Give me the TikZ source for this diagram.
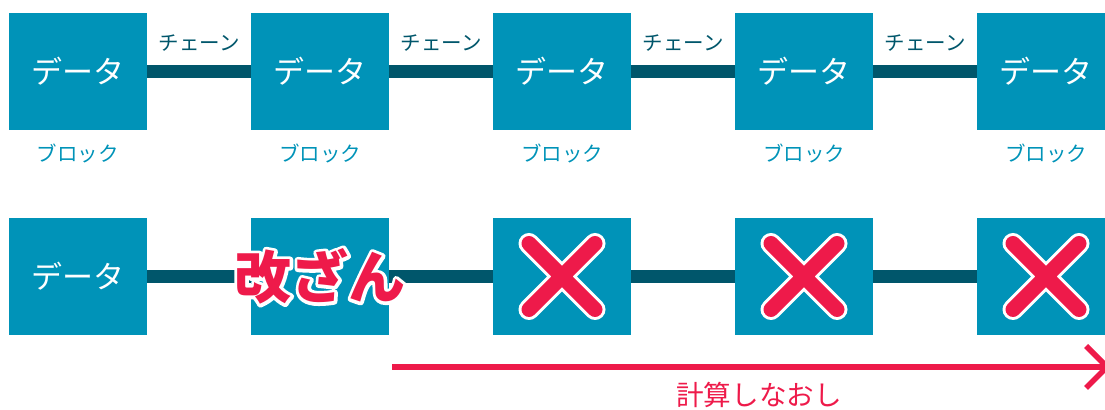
\documentclass[tikz,border=0pt]{standalone}
\usepackage{fontspec}
\newfontfamily\jp{Noto Sans CJK JP}
\usetikzlibrary{arrows.meta}
\definecolor{blockblue}{HTML}{0093B8}
\definecolor{chainteal}{HTML}{00566B}
\definecolor{alertred}{HTML}{EE1A4A}
% white outline under a text (stroke render mode of xdvipdfmx)
\newcommand\haloed[1]{\rlap{\special{pdf:literal direct 1 j 3.2 w 2 Tr}\textcolor{white}{#1}\special{pdf:literal direct 0 Tr}}\textcolor{alertred}{#1}}

\begin{document}
\begin{tikzpicture}[x=0.5pt,y=-0.5pt,
  blk/.style={fill=blockblue,minimum width=69pt,minimum height=58.5pt,inner sep=0pt,text=white,font=\jp\fontsize{15.5}{16}\selectfont},
  chain/.style={draw=chainteal,line width=6.5pt},
  blklabel/.style={text=blockblue,font=\jp\fontsize{10.25}{11}\selectfont},
  lnk/.style={text=chainteal,font=\jp\fontsize{10.25}{11}\selectfont},
  tamper/.style={font=\jp\bfseries\fontsize{28.5}{30}\selectfont,inner sep=0pt},
  redo/.style={draw=alertred,line width=2.75pt,-{Straight Barb[length=10.5pt,width=21pt]}}
]
\clip (0,0) rectangle (1105,410);

% chain: top row
\foreach \i in {1,...,5}{
  \node[blk] (b\i) at ({78+242*(\i-1)},71.5) {データ};
  \node[blklabel] (p\i) at ({78+242*(\i-1)},153) {ブロック};
}
\foreach \i/\j in {1/2,2/3,3/4,4/5}
  \draw[chain] (b\i) -- (b\j) node[lnk,midway,yshift=14.25pt] (l\i) {チェーン};

% tampered chain: bottom row
\node[blk] (c1) at (78,276.5) {データ};
\foreach \i in {2,...,5}
  \node[blk] (c\i) at ({78+242*(\i-1)},276.5) {};
\foreach \i/\j in {1/2,2/3,3/4,4/5}
  \draw[chain] (c\i) -- (c\j);

\foreach \i in {3,4,5}{
  \draw[white,line width=10.5pt,line cap=round]
    ([shift={(-33,-33)}]c\i.center) -- ([shift={(33,33)}]c\i.center)
    ([shift={(-33,33)}]c\i.center) -- ([shift={(33,-33)}]c\i.center);
  \draw[alertred,line width=7.5pt,line cap=round]
    ([shift={(-33,-33)}]c\i.center) -- ([shift={(33,33)}]c\i.center)
    ([shift={(-33,33)}]c\i.center) -- ([shift={(33,-33)}]c\i.center);
}

\node[tamper] (tamp) at (c2.center) {\haloed{改ざん}};

% recalculation
\coordinate (rs) at (392,367);
\coordinate (re) at (1111,367);
\draw[redo] (rs) -- (re);
\node[text=alertred,font=\jp\fontsize{13.8}{15}\selectfont] (rl) at (759,395) {計算しなおし};

\end{tikzpicture}
\end{document}
